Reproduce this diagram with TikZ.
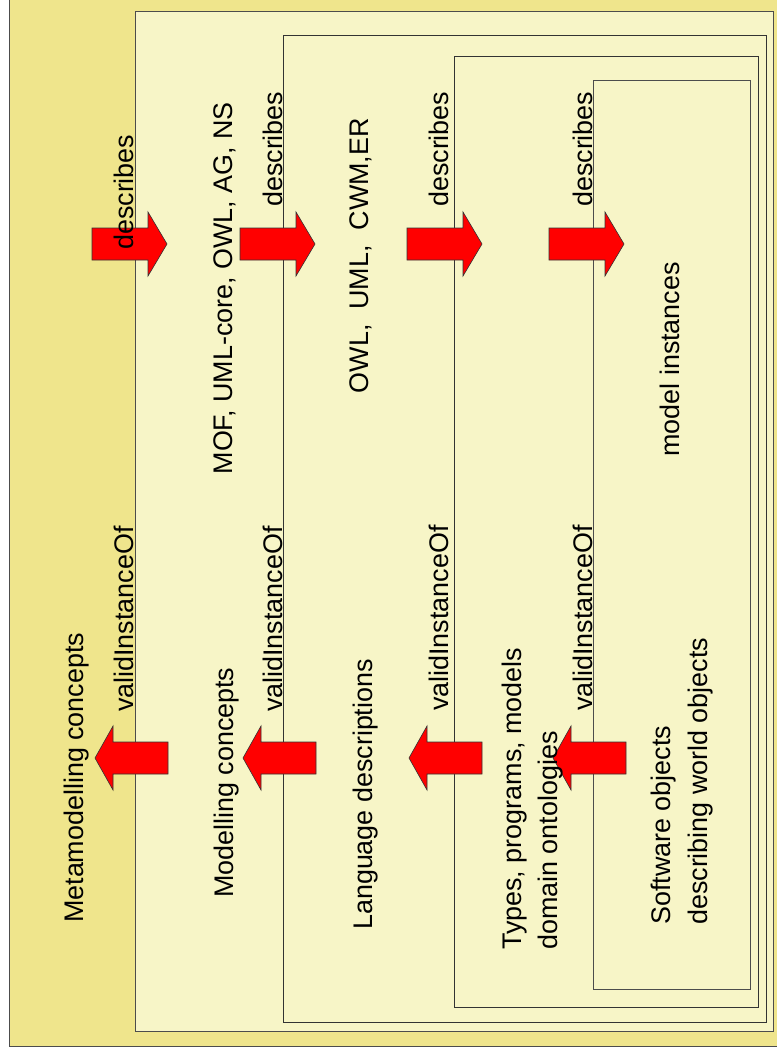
\documentclass[tikz,border=0pt]{standalone}
\usepackage{fontspec}
\setmainfont{Liberation Sans}
\definecolor{outerfill}{RGB}{239,229,140}
\definecolor{innerfill}{RGB}{247,245,199}
\begin{document}
\begin{tikzpicture}[x=1pt,y=-1pt,
  lvl/.style={draw=black!80, line width=0.8pt, fill=innerfill},
  lbl/.style={rotate=90, inner sep=0pt, font=\fontsize{26.9}{32}\selectfont},
  blk/.style={fill=red, draw=black!80, line width=0.6pt, line join=miter},
  rarr/.pic={\path[blk] (0,-16) -- (56,-16) -- (56,-32) -- (75,0) -- (56,32) -- (56,16) -- (0,16) -- cycle;},
  larr/.pic={\path[blk] (0,0) -- (18,-32) -- (18,-16) -- (73,-16) -- (73,16) -- (18,16) -- (18,32) -- cycle;}
]
\useasboundingbox (0,0) rectangle (776,1054);
\fill[white] (0,0) rectangle (776,1054);
% nested levels
\draw[fill=outerfill, draw=black!70, line width=0.8pt] (9,-1) rectangle (777,1046);
\draw[lvl, draw=black!70] (135,11) rectangle (773,1031);
\draw[lvl] (283,35) rectangle (766,1022);
\draw[lvl] (454,56) rectangle (758,1007);
\draw[lvl, draw=black!70] (593,80) rectangle (750,989);
% describes arrows
\pic at (92,244) {rarr};
\pic at (240,244) {rarr};
\pic at (407,244) {rarr};
\pic at (549,244) {rarr};
% validInstanceOf arrows
\pic at (95,758) {larr};
\pic at (243,758) {larr};
\pic at (409,758) {larr};
\pic at (553,758) {larr};
% labels
\node[lbl, anchor=base west] (d1) at (133,250) {describes};
\node[lbl, anchor=base west] (d2) at (282,207) {describes};
\node[lbl, anchor=base west] (d3) at (448,207) {describes};
\node[lbl, anchor=base west] (d4) at (592,207) {describes};
\node[lbl, anchor=base east] (l1) at (232,102) {MOF, UML-core, OWL, AG, NS};
\node[lbl, anchor=base east] (l2) at (368,118) {OWL,\ \ UML,\ \ CWM,ER};
\node[lbl, anchor=base east] (l3) at (679,262) {model instances};
\node[lbl, anchor=base west] (v1) at (133,712) {validInstanceOf};
\node[lbl, anchor=base west] (v2) at (282,712) {validInstanceOf};
\node[lbl, anchor=base west] (v3) at (448,711) {validInstanceOf};
\node[lbl, anchor=base west] (v4) at (592,711) {validInstanceOf};
\node[lbl, anchor=base west] (c1) at (83,923) {Metamodelling concepts};
\node[lbl, anchor=base west] (c2) at (233,898) {Modelling concepts};
\node[lbl, anchor=base west] (c3) at (372,930) {Language descriptions};
\node[lbl, anchor=base west] (c4a) at (521,950) {Types, programs, models};
\node[lbl, anchor=base west] (c4b) at (557,950) {domain ontologies};
\node[lbl, anchor=base west] (c5a) at (670,925) {Software objects};
\node[lbl, anchor=base west] (c5b) at (707,925) {describing world objects};
\end{tikzpicture}
\end{document}
